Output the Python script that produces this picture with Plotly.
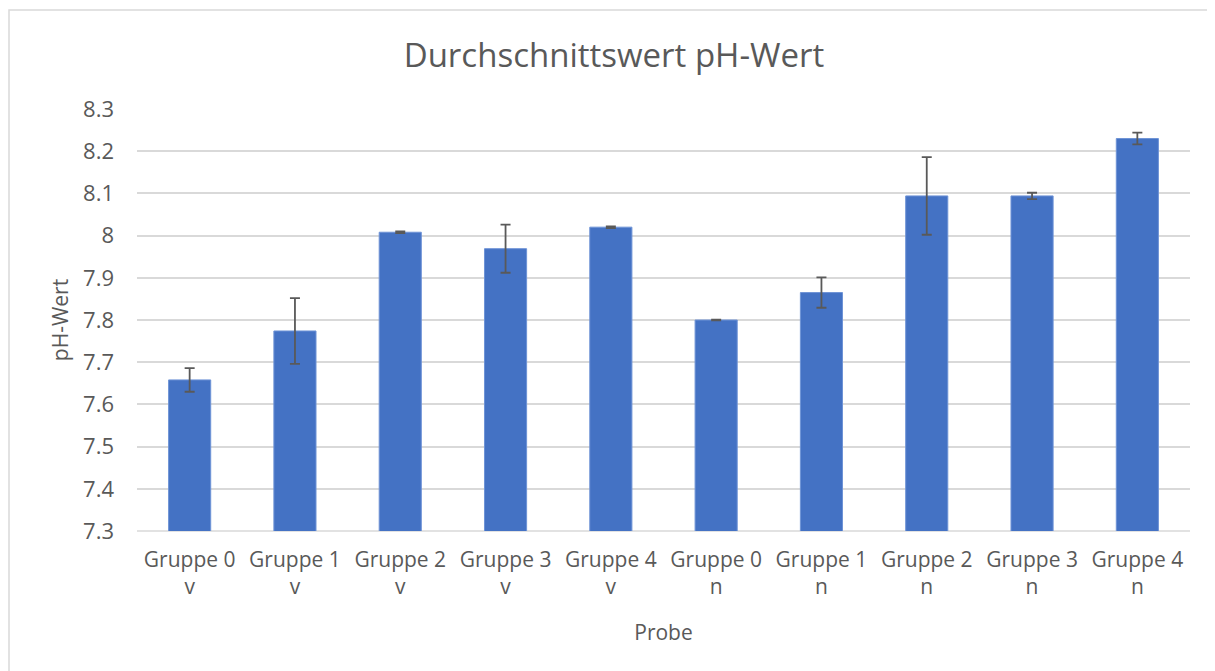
import plotly.graph_objects as go

# Mittelwerte und Standardabweichungen
proben = [
    "Gruppe 0<br>v", "Gruppe 1<br>v", "Gruppe 2<br>v", "Gruppe 3<br>v", "Gruppe 4<br>v",
    "Gruppe 0<br>n", "Gruppe 1<br>n", "Gruppe 2<br>n", "Gruppe 3<br>n", "Gruppe 4<br>n",
]
ph_mittel = [7.658, 7.774, 8.008, 7.969, 8.020, 7.800, 7.865, 8.094, 8.094, 8.230]
ph_fehler = [0.028, 0.078, 0.002, 0.057, 0.002, 0.001, 0.036, 0.092, 0.0075, 0.014]
y_ticks = [7.3, 7.4, 7.5, 7.6, 7.7, 7.8, 7.9, 8.0, 8.1, 8.2, 8.3]
y_labels = ["7.3", "7.4", "7.5", "7.6", "7.7", "7.8", "7.9", "8", "8.1", "8.2", "8.3"]

text_color = "#595959"
font_family = "'Open Sans', Lato, sans-serif"

# page body has an 8px margin, so the figure is sized/offset for that
W, H = 1207, 663
L, T = 129, 101
R = W - 1182
B = H - 523
pw, ph = W - L - R, H - T - B

fig = go.Figure(
    go.Bar(
        x=proben,
        y=ph_mittel,
        marker={"color": "#4472C4", "line": {"color": "#6E93D6", "width": 1}},
        error_y={
            "type": "data",
            "array": ph_fehler,
            "visible": True,
            "color": "#595959",
            "thickness": 1.8,
            "width": 5,
        },
        showlegend=False,
    )
)

fig.update_layout(
    width=W,
    height=H,
    margin={"l": L, "r": R, "t": T, "b": B},
    paper_bgcolor="white",
    plot_bgcolor="white",
    font={"family": font_family, "color": text_color, "size": 21},
    title={
        "text": "Durchschnittswert pH-Wert",
        "x": (614 - 8) / W,
        "xanchor": "center",
        "y": 1 - (55 - 8) / H,
        "yanchor": "middle",
        "font": {"size": 33, "color": text_color},
    },
    bargap=0.6,
    xaxis={
        "title": {"text": "Probe", "font": {"size": 21}, "standoff": 26},
        "showline": False,
        "ticks": "",
        "ticklabelstandoff": 14,
        "tickfont": {"size": 21},
    },
    yaxis={
        "title": {"text": "pH-Wert", "font": {"size": 21}, "standoff": 8},
        "range": [7.3, 8.3],
        "tickvals": y_ticks,
        "ticktext": y_labels,
        "showgrid": True,
        "gridcolor": "#D9D9D9",
        "gridwidth": 1.5,
        "zeroline": False,
        "ticks": "",
        "ticklabelstandoff": 22,
        "tickfont": {"size": 22},
    },
    shapes=[
        {
            "type": "rect",
            "xref": "paper",
            "yref": "paper",
            "x0": (1 - L) / pw,
            "x1": (W + 20 - L) / pw,
            "y0": -(B + 20) / ph,
            "y1": (ph + T - 2) / ph,
            "line": {"color": "#D9D9D9", "width": 1.5},
            "layer": "below",
        },
        {
            "type": "line",
            "xref": "paper",
            "yref": "paper",
            "x0": 0,
            "x1": 1,
            "y0": 0,
            "y1": 0,
            "line": {"color": "#D9D9D9", "width": 1.5},
            "layer": "below",
        },
    ],
)

fig.write_html("out.html")
